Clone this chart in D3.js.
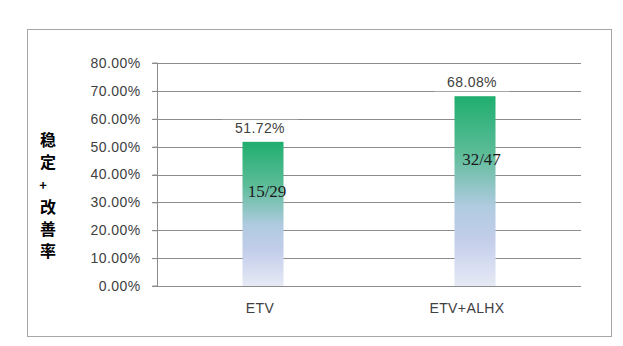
<!DOCTYPE html>
<html><head><meta charset="utf-8">
<script src="https://cdn.jsdelivr.net/npm/d3@7"></script>
<style>body{margin:0;background:#fff} .ratio{font-family:"Liberation Serif","DejaVu Serif",serif;}</style>
</head><body>
<svg id="c" width="623" height="346"></svg>
<script>
const categories = ["ETV", "ETV+ALHX"];
const values = [0.5172, 0.6808];
const valueLabels = ["51.72%", "68.08%"];
const ratioLabels = ["15/29", "32/47"];
const yTicks = [0, 0.1, 0.2, 0.3, 0.4, 0.5, 0.6, 0.7, 0.8];
const yTitle = ["稳", "定", "+", "改", "善", "率"];

(function () {
const svg = d3.select("#c");
const pLeft = 157, pRight = 581, pTop = 63, pBottom = 286;
const sans = "'Liberation Sans', Arial, sans-serif";

svg.append("rect").attr("x", 27.5).attr("y", 29.5).attr("width", 584).attr("height", 307)
  .attr("fill", "#fff").attr("stroke", "#a6a6a6").attr("stroke-width", 1);

const x = d3.scaleBand().domain(categories).range([pLeft, pRight]);
const y = d3.scaleLinear().domain([0, 0.8]).range([pBottom, pTop]);

const defs = svg.append("defs");
const g = defs.append("linearGradient").attr("id", "grad").attr("x1", 0).attr("y1", 0).attr("x2", 0).attr("y2", 1);
g.append("stop").attr("offset", "0%").attr("stop-color", "#1fae6e");
g.append("stop").attr("offset", "30%").attr("stop-color", "#5cbc98");
g.append("stop").attr("offset", "58%").attr("stop-color", "#b0cbe0");
g.append("stop").attr("offset", "75%").attr("stop-color", "#c2cdea");
g.append("stop").attr("offset", "100%").attr("stop-color", "#e6eaf5");

// gridlines
svg.append("g").selectAll("line").data(yTicks).join("line")
  .attr("x1", pLeft - 5).attr("x2", pRight)
  .attr("y1", d => Math.round(y(d)) + 0.5).attr("y2", d => Math.round(y(d)) + 0.5)
  .attr("stroke", "#8c8c8c").attr("stroke-width", 1);

// y axis
const yAxis = svg.append("g").attr("transform", `translate(${pLeft + 0.5},0)`)
  .call(d3.axisLeft(y).tickValues(yTicks).tickFormat(d => (d * 100).toFixed(2) + "%").tickSize(5).tickPadding(12));
yAxis.select(".domain").attr("stroke", "#8c8c8c").attr("d", `M-5,${pTop}H0V${pBottom}H-5`);
yAxis.selectAll(".tick line").attr("stroke", "#8c8c8c");
yAxis.selectAll(".tick text").attr("font-family", sans).attr("font-size", 14)
  .attr("letter-spacing", 0.4).attr("fill", "#404040");

// bars
const bw = 41;
svg.append("g").selectAll("rect").data(values).join("rect")
  .attr("x", (d, i) => x(categories[i]) + x.bandwidth() / 2 - bw / 2)
  .attr("y", d => y(d)).attr("width", bw).attr("height", d => y(0) - y(d))
  .attr("fill", "url(#grad)");

// value labels with white background
const vl = svg.append("g").selectAll("g").data(values).join("g")
  .attr("transform", (d, i) => `translate(${x(categories[i]) + x.bandwidth() / 2 - 3},${y(d) - 9})`);
vl.append("rect").attr("x", -38).attr("y", -13).attr("width", 76).attr("height", 17).attr("fill", "#fff");
vl.append("text").text((d, i) => valueLabels[i]).attr("text-anchor", "middle")
  .attr("font-family", sans).attr("font-size", 14).attr("letter-spacing", 0.4).attr("fill", "#404040");

// ratio labels
svg.append("g").selectAll("text").data(values).join("text")
  .attr("class", "ratio")
  .attr("x", (d, i) => x(categories[i]) + x.bandwidth() / 2 + (i === 0 ? 4 : 6.5))
  .attr("y", (d, i) => y(d) + (i === 0 ? 55 : 69))
  .attr("text-anchor", "middle")
  .style("font-family", "\"Liberation Serif\", \"DejaVu Serif\", serif")
  .style("font-size", "17px").attr("fill", "#1a1a1a")
  .text((d, i) => ratioLabels[i]);

// x labels
svg.append("g").selectAll("text").data(categories).join("text")
  .attr("x", (d, i) => x(d) + x.bandwidth() / 2 - (i === 0 ? 3 : 8))
  .attr("y", 313).attr("text-anchor", "middle")
  .attr("font-family", sans).attr("font-size", 14).attr("letter-spacing", 0.4).attr("fill", "#404040")
  .text(d => d);

// y title
svg.append("g").selectAll("text").data(yTitle).join("text")
  .attr("x", (d) => d === "+" ? 43 : 48).attr("y", (d, i) => 146 + i * 22.2)
  .attr("text-anchor", "middle")
  .attr("font-family", "'Noto Sans CJK SC', sans-serif").attr("font-weight", "bold")
  .attr("font-size", d => d === "+" ? 13 : 16).attr("fill", "#000")
  .text(d => d);
})();
</script>
</body></html>
